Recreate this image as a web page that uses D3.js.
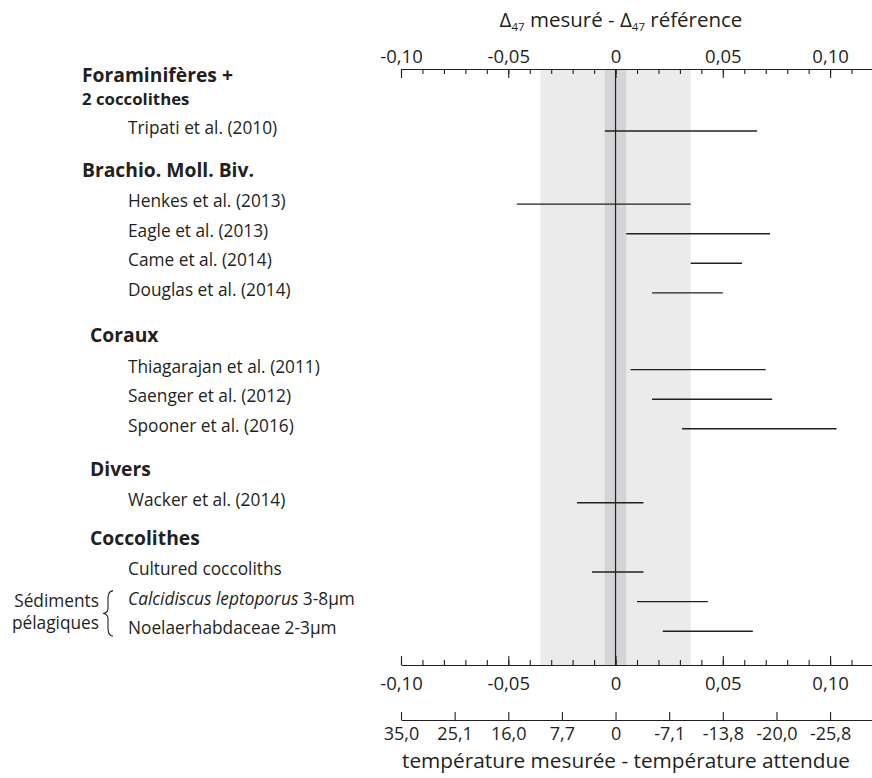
<!DOCTYPE html>
<html>
<head>
<meta charset="utf-8">
<script src="https://cdn.jsdelivr.net/npm/d3@7"></script>
<style>
  html, body { margin: 0; padding: 0; background: #fff; }
  svg { display: block; font-family: "Open Sans", "Noto Sans", sans-serif; }
</style>
</head>
<body>
<svg id="chart" width="872" height="778"></svg>
<script>
// ---------------- data ----------------
const groupNames = ["Foraminifères +", "Brachio. Moll. Biv.", "Coraux", "Divers", "Coccolithes"];
const groupSubNames = ["2 coccolithes", "", "", "", ""];
const studies = [
  "Tripati et al. (2010)",
  "Henkes et al. (2013)",
  "Eagle et al. (2013)",
  "Came et al. (2014)",
  "Douglas et al. (2014)",
  "Thiagarajan et al. (2011)",
  "Saenger et al. (2012)",
  "Spooner et al. (2016)",
  "Wacker et al. (2014)",
  "Cultured coccoliths",
  "Calcidiscus leptoporus|3-8μm",
  "Noelaerhabdaceae 2-3μm"
];
const studyGroup = [0, 1, 1, 1, 1, 2, 2, 2, 3, 4, 4, 4];
const deltaLow  = [-0.005, -0.046, 0.005, 0.035, 0.017, 0.007, 0.017, 0.031, -0.018, -0.011, 0.010, 0.022];
const deltaHigh = [ 0.066,  0.035, 0.072, 0.059, 0.050, 0.070, 0.073, 0.103,  0.013,  0.013, 0.043, 0.064];
const deltaMajorTicks = [-0.10, -0.05, 0, 0.05, 0.10];
const deltaMinorTicks = [-0.10,-0.09,-0.08,-0.07,-0.06,-0.05,-0.04,-0.03,-0.02,-0.01,0,0.01,0.02,0.03,0.04,0.05,0.06,0.07,0.08,0.09,0.10,0.11];
const tempTickValues = [-0.10, -0.075, -0.05, -0.025, 0, 0.025, 0.05, 0.075, 0.10];
const tempTickLabels = ["35,0", "25,1", "16,0", "7,7", "0", "-7,1", "-13,8", "-20,0", "-25,8"];
const referenceBand = [-0.035, 0.035];
const analyticBand = [-0.005, 0.005];
const bracketRows = [10, 11];
const bracketLabel = ["Sédiments", "pélagiques"];

// ---------------- layout ----------------
const W = 872, H = 778;
const ink = "#231f20";
const groupSpacer = [0, 1.47, 1.59, 1.5, 1.34];
const groupIndent = [82, 82, 90, 90, 90];
const topAxisY = 69, bottomAxisY = 665, tempAxisY = 720;
const labelX = 128;

const svg = d3.select("#chart");
const x = d3.scaleLinear().domain([-0.10, 0.12]).range([401, 873]);
const y = d3.scaleLinear().domain([0, 1]).range([131, 131 + 29.6]);

// slot per study from structure
const cumSpacer = groupSpacer.map((d, i) => d3.sum(groupSpacer.slice(0, i + 1)));
const slot = studies.map((d, i) => i + cumSpacer[studyGroup[i]]);

const fmt = d => d === 0 ? "0" : d3.format(".2f")(d).replace(".", ",").replace("−", "-");

// shaded bands
svg.append("rect")
  .attr("x", x(referenceBand[0])).attr("width", x(referenceBand[1]) - x(referenceBand[0]))
  .attr("y", topAxisY).attr("height", bottomAxisY - topAxisY)
  .attr("fill", "#ebebeb");
svg.append("rect")
  .attr("x", x(analyticBand[0])).attr("width", x(analyticBand[1]) - x(analyticBand[0]))
  .attr("y", topAxisY).attr("height", bottomAxisY - topAxisY)
  .attr("fill", "#d4d5d7");
svg.append("line")
  .attr("x1", x(0)).attr("x2", x(0))
  .attr("y1", topAxisY).attr("y2", bottomAxisY)
  .attr("stroke", ink).attr("stroke-width", 1.2);

// axes
function styleAxis(g, fontSize) {
  g.selectAll("path.domain").attr("stroke", ink).attr("stroke-width", 1.2);
  g.selectAll(".tick line").attr("stroke", ink).attr("stroke-width", 1.1);
  g.selectAll(".tick text").attr("fill", ink).attr("font-size", fontSize)
    .attr("font-family", "'Open Sans', sans-serif");
}
// top
const topMinor = svg.append("g").attr("transform", `translate(0,${topAxisY})`)
  .call(d3.axisTop(x).tickValues(deltaMinorTicks).tickSize(-5).tickSizeOuter(0).tickFormat(""));
topMinor.select("path.domain").remove();
styleAxis(topMinor, 18.5);
const topMajor = svg.append("g").attr("transform", `translate(0,${topAxisY})`)
  .call(d3.axisTop(x).tickValues(deltaMajorTicks).tickSize(-9).tickSizeOuter(0).tickPadding(6.5).tickFormat(fmt));
styleAxis(topMajor, 18.5);

// bottom delta
const botMinor = svg.append("g").attr("transform", `translate(0,${bottomAxisY})`)
  .call(d3.axisBottom(x).tickValues(deltaMinorTicks).tickSize(-5).tickSizeOuter(0).tickFormat(""));
botMinor.select("path.domain").remove();
styleAxis(botMinor, 18.5);
const botMajor = svg.append("g").attr("transform", `translate(0,${bottomAxisY})`)
  .call(d3.axisBottom(x).tickValues(deltaMajorTicks).tickSize(-9).tickSizeOuter(0).tickPadding(12).tickFormat(fmt));
styleAxis(botMajor, 18.5);

// temperature axis
const tempAxis = svg.append("g").attr("transform", `translate(0,${tempAxisY})`)
  .call(d3.axisBottom(x).tickValues(tempTickValues).tickSize(-8).tickSizeOuter(0).tickPadding(7)
    .tickFormat((d, i) => tempTickLabels[i]));
styleAxis(tempAxis, 18);

// axis titles
const topTitle = svg.append("text").attr("x", 621).attr("y", 27)
  .attr("text-anchor", "middle").attr("fill", ink).attr("font-size", 20.5);
topTitle.append("tspan").text("Δ");
topTitle.append("tspan").attr("font-size", 11.5).attr("dy", 4).text("47");
topTitle.append("tspan").attr("dy", -4).text(" mesuré - Δ");
topTitle.append("tspan").attr("font-size", 11.5).attr("dy", 4).text("47");
topTitle.append("tspan").attr("dy", -4).text(" référence");

svg.append("text").attr("x", 626).attr("y", 768)
  .attr("text-anchor", "middle").attr("fill", ink).attr("font-size", 20.8)
  .text("température mesurée - température attendue");

// group headers
groupNames.forEach((name, g) => {
  const first = studyGroup.indexOf(g);
  const s0 = slot[first];
  const hasSub = groupSubNames[g] !== "";
  svg.append("text")
    .attr("x", groupIndent[g])
    .attr("y", y(hasSub ? s0 - 1.8 : s0 - 1) + (hasSub ? 4 : 2.5))
    .attr("fill", ink).attr("font-weight", 700).attr("font-size", 19.3)
    .text(name);
  if (hasSub) {
    svg.append("text")
      .attr("x", groupIndent[g]).attr("y", y(s0 - 1) + 4)
      .attr("fill", ink).attr("font-weight", 700).attr("font-size", 16.8)
      .text(groupSubNames[g]);
  }
});

// study labels
studies.forEach((name, i) => {
  const t = svg.append("text").attr("x", labelX).attr("y", y(slot[i]) + 3)
    .attr("fill", ink).attr("font-size", 17.3);
  if (name.includes("|")) {
    const [it, rest] = name.split("|");
    t.append("tspan").attr("font-style", "italic").text(it);
    t.append("tspan").text(" " + rest);
  } else {
    t.text(name);
  }
});

// range bars
svg.append("g").selectAll("line")
  .data(studies.map((d, i) => i))
  .join("line")
  .attr("x1", i => x(deltaLow[i])).attr("x2", i => x(deltaHigh[i]))
  .attr("y1", i => y(slot[i])).attr("y2", i => y(slot[i]))
  .attr("stroke", ink).attr("stroke-width", 1.4);

// bracket
const yTop = y(slot[bracketRows[0]]) - 11;
const yBot = y(slot[bracketRows[1]]) + 5;
const yMid = (yTop + yBot) / 2;
const bx = 113, tipX = 103, stemX = 108;
svg.append("path")
  .attr("d", `M${bx},${yTop} C${stemX},${yTop + 1} ${stemX},${yTop + 5} ${stemX},${yTop + 10}
              L${stemX},${yMid - 5} C${stemX},${yMid - 1.5} ${tipX + 2},${yMid} ${tipX},${yMid}
              C${tipX + 2},${yMid} ${stemX},${yMid + 1.5} ${stemX},${yMid + 5}
              L${stemX},${yBot - 10} C${stemX},${yBot - 5} ${stemX},${yBot - 1} ${bx},${yBot}`)
  .attr("fill", "none").attr("stroke", ink).attr("stroke-width", 1.1);
svg.append("text").attr("x", 99).attr("y", y(slot[bracketRows[0]]) + 5.5)
  .attr("text-anchor", "end").attr("fill", ink).attr("font-size", 17.3).text(bracketLabel[0]);
svg.append("text").attr("x", 99).attr("y", y(slot[bracketRows[1]]) - 2)
  .attr("text-anchor", "end").attr("fill", ink).attr("font-size", 17.3).text(bracketLabel[1]);
</script>
</body>
</html>
